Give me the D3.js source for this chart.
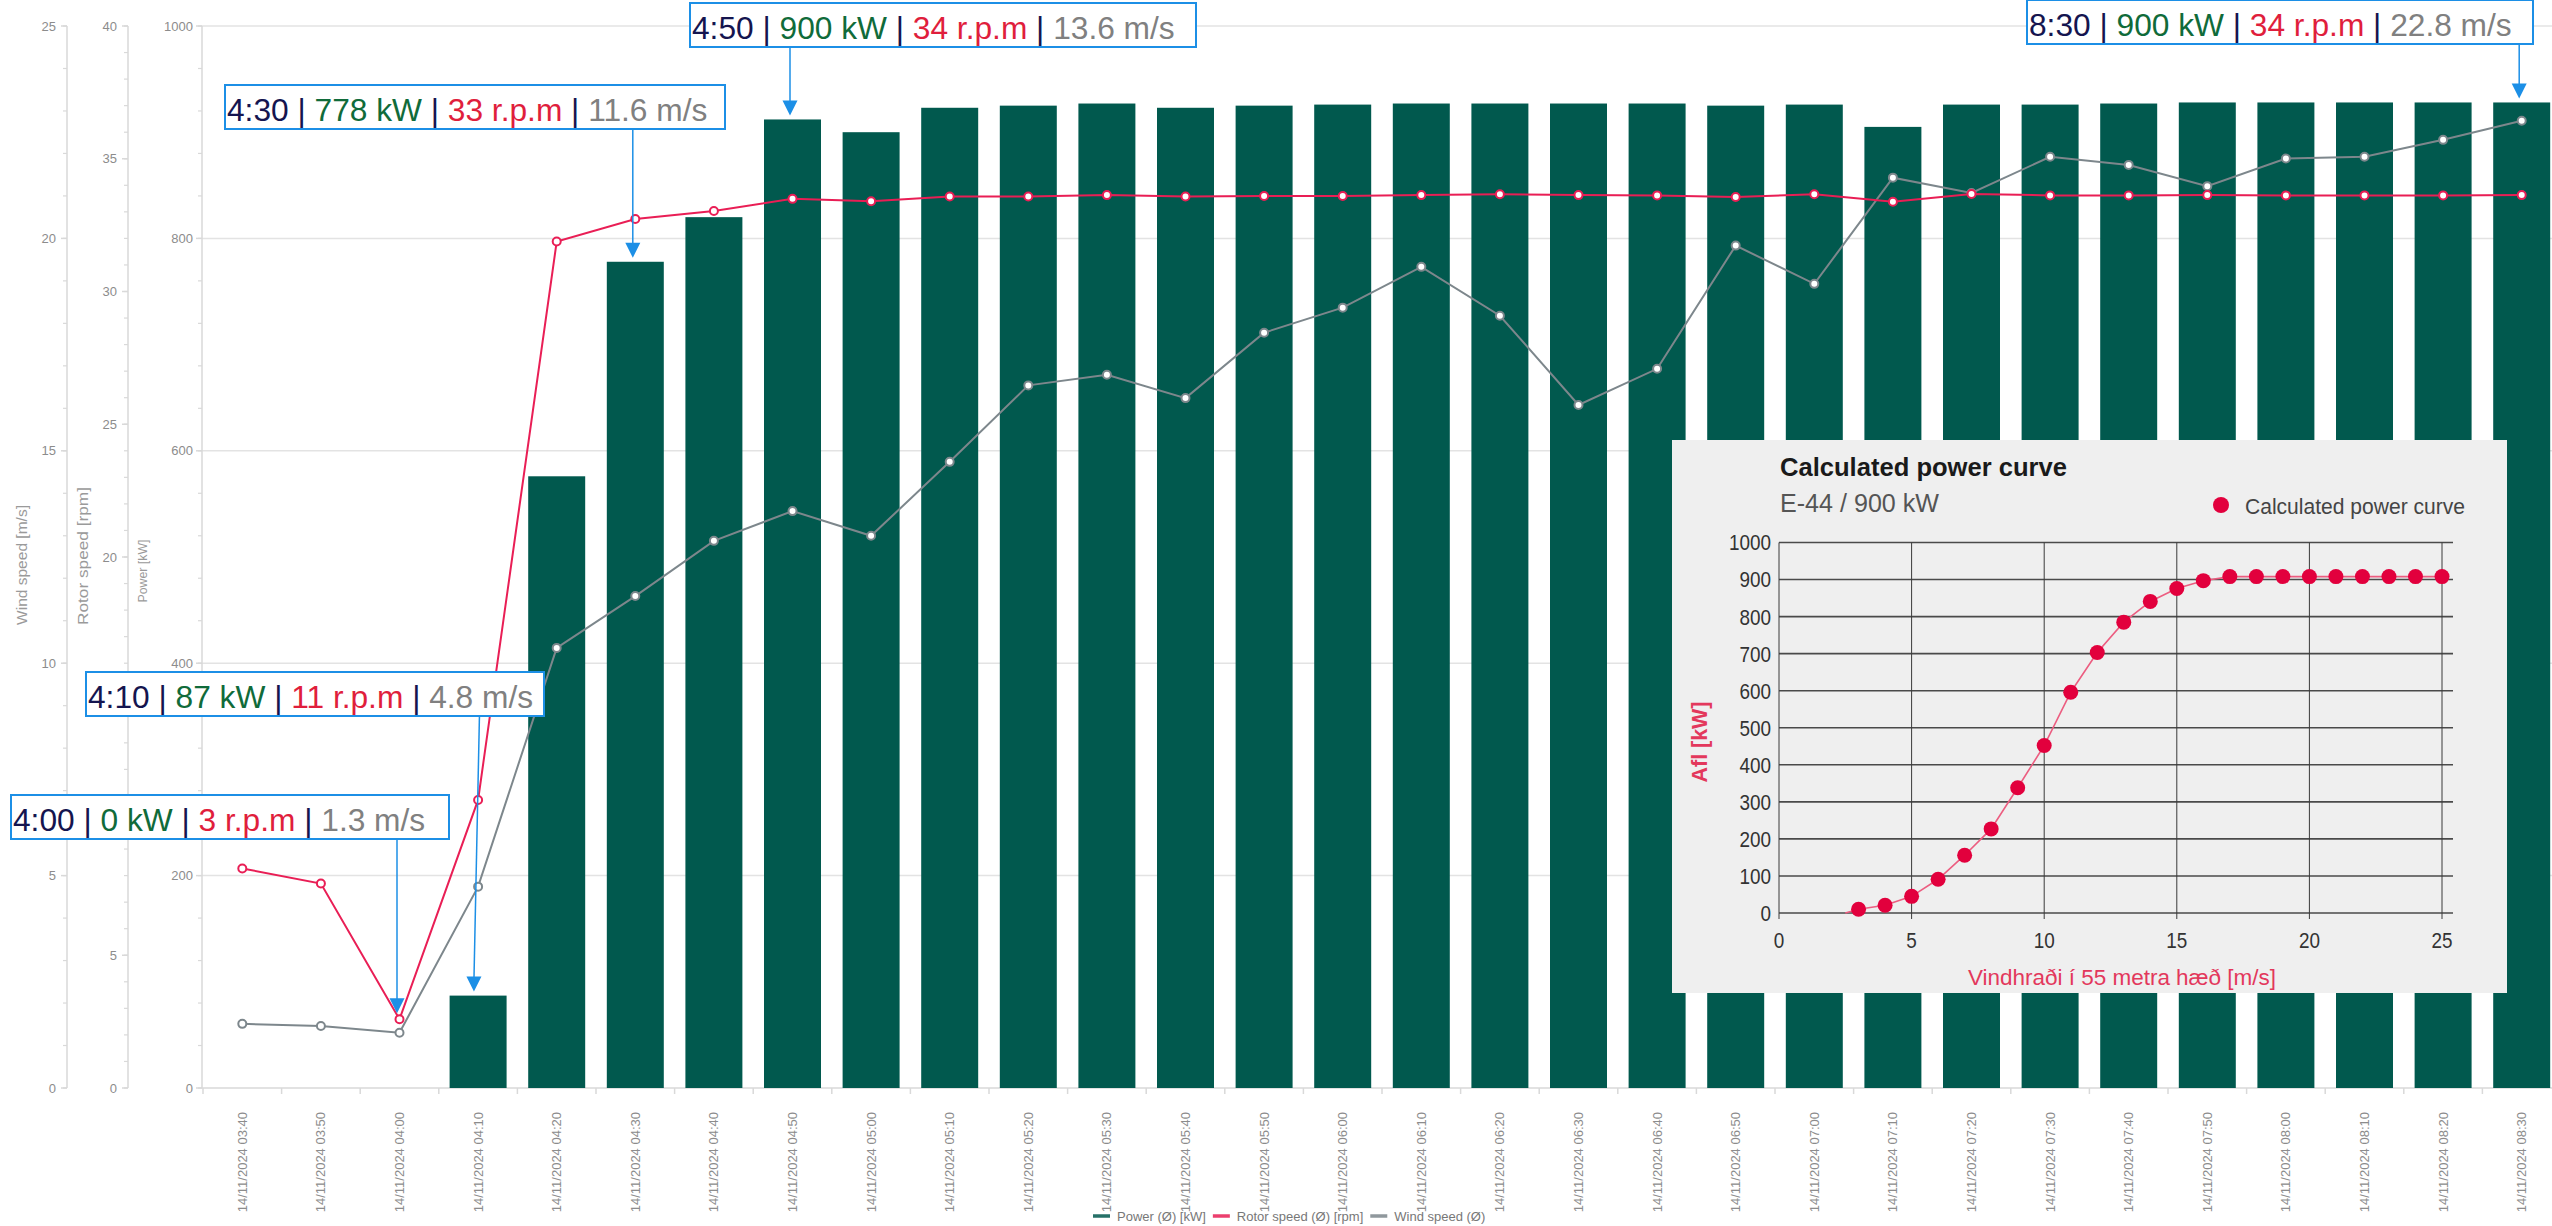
<!DOCTYPE html>
<html><head><meta charset="utf-8">
<script src="https://cdn.jsdelivr.net/npm/d3@7"></script>
<style>body{margin:0;background:#fff;} svg{display:block;font-family:"Liberation Sans",Arial,sans-serif;}</style>
</head><body><svg id="c" width="2552" height="1226"></svg>
<script>
// ---------------- DATA ----------------
const times = ["03:40","03:50","04:00","04:10","04:20","04:30","04:40","04:50","05:00","05:10",
  "05:20","05:30","05:40","05:50","06:00","06:10","06:20","06:30","06:40","06:50",
  "07:00","07:10","07:20","07:30","07:40","07:50","08:00","08:10","08:20","08:30"];
const dateLabel = "14/11/2024";
const power = [0,0,0,87,576,778,820,912,900,923,925,927,923,925,926,927,927,927,927,925,
  926,905,926,926,927,928,928,928,928,928];
const rotor = [8.27,7.70,2.59,10.85,31.88,32.73,33.03,33.49,33.40,33.58,33.58,33.63,33.58,33.60,33.60,
  33.63,33.66,33.63,33.62,33.56,33.66,33.38,33.67,33.62,33.62,33.63,33.62,33.62,33.62,33.63];
const wind = [1.51,1.46,1.30,4.74,10.36,11.58,12.88,13.58,13.00,14.74,16.54,16.79,16.24,17.78,18.37,
  19.33,18.18,16.08,16.93,19.83,18.93,21.43,21.07,21.92,21.73,21.23,21.88,21.92,22.32,22.77];
const powerTicks = [0,200,400,600,800,1000];
const rotorTicks = [0,5,10,15,20,25,30,35,40];
const windTicks = [0,5,10,15,20,25];
const seriesNames = ["Power (Ø) [kW]","Rotor speed (Ø) [rpm]","Wind speed (Ø)"];
const axisTitles = ["Wind speed [m/s]","Rotor speed [rpm]","Power [kW]"];

// callouts
const annIndex = [2,3,5,7,29];
const annTime = ["4:00","4:10","4:30","4:50","8:30"];
const annKW = ["0","87","778","900","900"];
const annRPM = ["3","11","33","34","34"];
const annWS = ["1.3","4.8","11.6","13.6","22.8"];
const annTarget = ["rotor","bar","bar","bar","bar"];

// inset: calculated power curve E-44
const pcWind = [3,4,5,6,7,8,9,10,11,12,13,14,15,16,17,18,19,20,21,22,23,24,25];
const pcPower = [10,21,45,91,156,227,338,452,596,703,785,841,876,897,908,908,908,908,908,908,908,908,908];
const pcTicksX = [0,5,10,15,20,25];
const pcTicksY = [0,100,200,300,400,500,600,700,800,900,1000];
const pcTitle = "Calculated power curve";
const pcSubtitle = "E-44 / 900 kW";
const pcLegend = "Calculated power curve";
const pcXTitle = "Vindhraði í 55 metra hæð [m/s]";
const pcYTitle = "Afl  [kW]";

// ---------------- LAYOUT / STYLE ----------------
const C = {bar:"#01594e", rotor:"#e91e55", wind:"#7d878c", grid:"#e3e3e3", axis:"#d9d9d9",
  tick:"#8c8c8c", blue:"#1c8fe6", navy:"#15154f", green:"#106b3a", red:"#e01e3c", grey:"#808080",
  pcRed:"#e2003d"};
const P = {left:203, right:2561, top:26, bottom:1088};
const axX = {wind:67, rotor:128, power:202};
const annBox = [{x:11,y:795,w:438},{x:86,y:672,w:458},{x:225,y:85,w:500},{x:690,y:3,w:506},{x:2027,y:0,w:506}];
const annSkew = [0,5.5,0,0,0];
const BOXH = 44;
const inset = {x:1672,y:440,w:835,h:553, pl:1779, pr:2442, pt:542.5, pb:913};

const svg = d3.select("#c");
svg.append("rect").attr("width",2552).attr("height",1226).attr("fill","#fff");

const x = d3.scaleBand().domain(times).range([P.left,P.right]).paddingInner(0.275).paddingOuter(0.1375);
const yP = d3.scaleLinear().domain([0,1000]).range([P.bottom,P.top]);
const yR = d3.scaleLinear().domain([0,40]).range([P.bottom,P.top]);
const yW = d3.scaleLinear().domain([0,25]).range([P.bottom,P.top]);
const cx = t => x(t) + x.bandwidth()/2;

// gridlines
svg.append("g").selectAll("line").data(powerTicks.filter(d=>d>0)).join("line")
  .attr("x1",axX.power).attr("x2",2552).attr("y1",d=>yP(d)).attr("y2",d=>yP(d))
  .attr("stroke",C.grid).attr("stroke-width",1.5);

// y axes
function yAxis(scale, xpos, major, minorStep, maxV, labelRight){
  const g = svg.append("g");
  g.append("line").attr("x1",xpos).attr("x2",xpos).attr("y1",P.top).attr("y2",P.bottom)
    .attr("stroke",C.axis).attr("stroke-width",1.5);
  const minors = d3.range(0, maxV+1e-9, minorStep);
  g.selectAll(".mn").data(minors).join("line").attr("x1",xpos-4).attr("x2",xpos)
    .attr("y1",d=>scale(d)).attr("y2",d=>scale(d)).attr("stroke",C.axis).attr("stroke-width",1.2);
  g.selectAll(".mj").data(major).join("line").attr("x1",xpos-6).attr("x2",xpos)
    .attr("y1",d=>scale(d)).attr("y2",d=>scale(d)).attr("stroke",C.axis).attr("stroke-width",1.5);
  g.selectAll("text").data(major).join("text").attr("x",labelRight).attr("y",d=>scale(d)).attr("dy","0.35em")
    .attr("text-anchor","end").attr("font-size",13).attr("fill",C.tick).text(d=>d);
}
yAxis(yW, axX.wind, windTicks, 1, 25, 56);
yAxis(yR, axX.rotor, rotorTicks, 1, 40, 117);
yAxis(yP, axX.power, powerTicks, 40, 1000, 193);

// axis titles (rotated, reading bottom-to-top)
const titlePos = [{x:27,y:565,fs:15,len:120},{x:88,y:556,fs:15.5,len:138},{x:147,y:571,fs:12.5,len:63}];
axisTitles.forEach((t,i)=>{
  svg.append("text").attr("transform",`translate(${titlePos[i].x},${titlePos[i].y}) rotate(-90)`)
    .attr("text-anchor","middle").attr("font-size",titlePos[i].fs).attr("fill","#9a9a9a")
    .attr("textLength",titlePos[i].len).attr("lengthAdjust","spacingAndGlyphs").text(t);
});

// x axis
svg.append("line").attr("x1",axX.power).attr("x2",2552).attr("y1",P.bottom).attr("y2",P.bottom)
  .attr("stroke",C.axis).attr("stroke-width",1.5);
svg.append("g").selectAll("line").data(times).join("line")
  .attr("x1",d=>x(d)-x.step()*x.paddingInner()/2).attr("x2",d=>x(d)-x.step()*x.paddingInner()/2)
  .attr("y1",P.bottom).attr("y2",P.bottom+6).attr("stroke",C.axis).attr("stroke-width",1.5);
svg.append("g").selectAll("text").data(times).join("text")
  .attr("transform",d=>`translate(${cx(d)+4.5},${P.bottom+24}) rotate(-90)`)
  .attr("text-anchor","end").attr("font-size",13).attr("fill",C.tick).text(d=>dateLabel+" "+d);

// bars
svg.append("g").selectAll("rect").data(power).join("rect")
  .attr("x",(d,i)=>x(times[i])).attr("width",x.bandwidth())
  .attr("y",d=>yP(d)).attr("height",d=>yP(0)-yP(d)).attr("fill",C.bar);

// lines
function series(vals, scale, color){
  const line = d3.line().x((d,i)=>cx(times[i])).y(d=>scale(d));
  svg.append("path").datum(vals).attr("d",line).attr("fill","none").attr("stroke",color).attr("stroke-width",2);
  svg.append("g").selectAll("circle").data(vals).join("circle")
    .attr("cx",(d,i)=>cx(times[i])).attr("cy",d=>scale(d)).attr("r",4)
    .attr("fill","#fff").attr("stroke",color).attr("stroke-width",2);
}
series(wind, yW, C.wind);
series(rotor, yR, C.rotor);

// legend
{
  let lx = 1093; const ly = 1216;
  const cols = [C.bar, C.rotor, C.wind];
  seriesNames.forEach((n,i)=>{
    svg.append("line").attr("x1",lx).attr("x2",lx+17).attr("y1",ly).attr("y2",ly)
      .attr("stroke",cols[i]).attr("stroke-width",3.5).attr("opacity",0.85);
    const t = svg.append("text").attr("x",lx+24).attr("y",ly+4.5).attr("font-size",13).attr("fill","#777").text(n);
    lx += 24 + t.node().getComputedTextLength() + 7;
  });
}

// inset power curve
{
  const g = svg.append("g");
  g.append("rect").attr("x",inset.x).attr("y",inset.y).attr("width",inset.w).attr("height",inset.h).attr("fill","#efefef");
  const px = d3.scaleLinear().domain([0,25]).range([inset.pl,inset.pr]);
  const py = d3.scaleLinear().domain([0,1000]).range([inset.pb,inset.pt]);
  g.selectAll(".hg").data(pcTicksY).join("line").attr("x1",px(0)).attr("x2",px(25)+11)
    .attr("y1",d=>py(d)).attr("y2",d=>py(d)).attr("stroke","#4a4a4a").attr("stroke-width",1.6);
  g.selectAll(".vg").data(pcTicksX).join("line").attr("x1",d=>px(d)).attr("x2",d=>px(d))
    .attr("y1",py(1000)).attr("y2",py(0)+6).attr("stroke","#3a3a3a").attr("stroke-width",1);
  g.selectAll(".yt").data(pcTicksY).join("text")
    .attr("transform",d=>`translate(${px(0)-8},${py(d)}) scale(0.86,1)`).attr("dy","0.36em")
    .attr("text-anchor","end").attr("font-size",22).attr("fill","#333").text(d=>d);
  g.selectAll(".xt").data(pcTicksX).join("text")
    .attr("transform",d=>`translate(${px(d)},${py(0)+35}) scale(0.86,1)`)
    .attr("text-anchor","middle").attr("font-size",22).attr("fill","#333").text(d=>d);
  const line = d3.line().x(d=>px(d[0])).y(d=>py(d[1]));
  const pts = [[2.5,0]].concat(pcWind.map((w,i)=>[w,pcPower[i]]));
  g.append("path").datum(pts).attr("d",line).attr("fill","none").attr("stroke","#ec5d80").attr("stroke-width",1.6);
  g.selectAll("circle").data(pcWind).join("circle").attr("cx",d=>px(d)).attr("cy",(d,i)=>py(pcPower[i]))
    .attr("r",7.5).attr("fill",C.pcRed);
  g.append("text").attr("x",1780).attr("y",476).attr("font-size",25).attr("font-weight","bold").attr("fill","#1a1a1a")
    .attr("textLength",287).attr("lengthAdjust","spacingAndGlyphs").text(pcTitle);
  g.append("text").attr("x",1780).attr("y",512).attr("font-size",26).attr("fill","#555")
    .attr("textLength",159).attr("lengthAdjust","spacingAndGlyphs").text(pcSubtitle);
  g.append("circle").attr("cx",2221).attr("cy",505).attr("r",8).attr("fill",C.pcRed);
  g.append("text").attr("x",2245).attr("y",514).attr("font-size",22).attr("fill","#444")
    .attr("textLength",220).attr("lengthAdjust","spacingAndGlyphs").text(pcLegend);
  g.append("text").attr("x",2122).attr("y",985).attr("text-anchor","middle").attr("font-size",22).attr("fill","#e3385c")
    .attr("textLength",308).attr("lengthAdjust","spacingAndGlyphs").text(pcXTitle);
  g.append("text").attr("transform","translate(1707,742) rotate(-90)").attr("text-anchor","middle")
    .attr("font-size",22).attr("font-weight","bold").attr("fill","#e3385c")
    .attr("textLength",81).attr("lengthAdjust","spacingAndGlyphs").text(pcYTitle);
}

// callouts
annIndex.forEach((idx,k)=>{
  const b = annBox[k];
  const c0 = cx(times[idx]) - 2.5;
  const sx = c0 + annSkew[k]*0.7, ex = c0 - annSkew[k]*0.3;
  const tipY = annTarget[k]==="rotor" ? yR(rotor[idx]) - 6 : yP(power[idx]) - 4;
  svg.append("line").attr("x1",sx).attr("y1",b.y+BOXH).attr("x2",ex).attr("y2",tipY-12)
    .attr("stroke",C.blue).attr("stroke-width",1.5);
  svg.append("path").attr("d",`M${ex-7.5},${tipY-15}L${ex+7.5},${tipY-15}L${ex},${tipY}Z`).attr("fill",C.blue);
  svg.append("rect").attr("x",b.x).attr("y",b.y).attr("width",b.w).attr("height",BOXH)
    .attr("fill","#fff").attr("stroke",C.blue).attr("stroke-width",2);
  const t = svg.append("text").attr("x",b.x+2).attr("y",b.y+36).attr("font-size",31.7);
  const parts = [[annTime[k],C.navy],[" | ",C.navy],[annKW[k]+" kW",C.green],[" | ",C.navy],
    [annRPM[k]+" r.p.m",C.red],[" | ",C.navy],[annWS[k]+" m/s",C.grey]];
  parts.forEach(p=>t.append("tspan").attr("fill",p[1]).text(p[0]));
});
</script></body></html>
